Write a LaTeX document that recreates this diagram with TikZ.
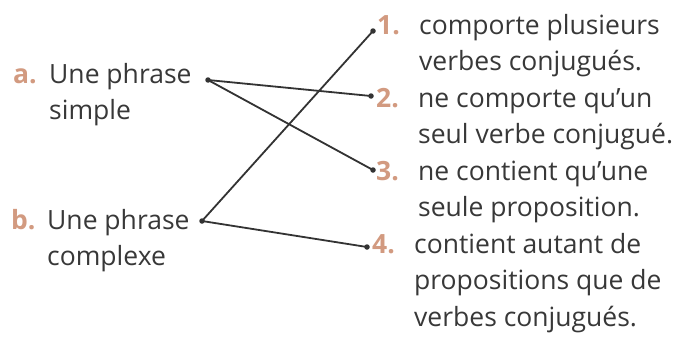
\documentclass[tikz,border=0pt]{standalone}
\usepackage{fontspec}
\setmainfont{Open Sans}
\definecolor{txt}{HTML}{383838}
\definecolor{num}{HTML}{D29A80}
\definecolor{ln}{HTML}{333333}
\begin{document}
\begin{tikzpicture}[x=1pt,y=-1pt,
  lbl/.style={inner sep=0pt, anchor=base west, align=left, text=txt,
    font=\fontsize{26.5}{36.5}\selectfont},
  numlbl/.style={inner sep=0pt, anchor=base west, text=num,
    font=\fontsize{26.5}{36.5}\selectfont\bfseries},
  pt/.style={circle, fill=ln, inner sep=0pt, minimum size=5.5pt},
  link/.style={draw=ln, line width=1.8pt}]
\useasboundingbox (0,0) rectangle (676,340);
% left items (anchored at the baseline of their last line)
\node[numlbl] (na) at (13,83) {a.};
\node[lbl] (ta) at (49,119.5) {Une phrase\\simple};
\node[numlbl] (nb) at (11,229) {b.};
\node[lbl] (tb) at (47,265.5) {Une phrase\\complexe};
% right items
\node[numlbl] (n1) at (377,34) {1.};
\node[lbl] (t1) at (419,70.5) {comporte plusieurs\\verbes conjugués.};
\node[numlbl] (n2) at (376,107) {2.};
\node[lbl] (t2) at (418,143.5) {ne comporte qu’un\\seul verbe conjugué.};
\node[numlbl] (n3) at (376,180) {3.};
\node[lbl] (t3) at (418,216.5) {ne contient qu’une\\seule proposition.};
\node[numlbl] (n4) at (372,253) {4.};
\node[lbl] (t4) at (414,326) {contient autant de\\propositions que de\\verbes conjugués.};
% dots
\node[pt] (pa) at (208,80) {};
\node[pt] (pb) at (202,221) {};
\node[pt] (p1) at (373,31) {};
\node[pt] (p2) at (371,96) {};
\node[pt] (p3) at (373,170) {};
\node[pt] (p4) at (367,247) {};
% links
\draw[link] (pa.center) -- (p2.center);
\draw[link] (pa.center) -- (p3.center);
\draw[link] (pb.center) -- (p1.center);
\draw[link] (pb.center) -- (p4.center);
\end{tikzpicture}
\end{document}
